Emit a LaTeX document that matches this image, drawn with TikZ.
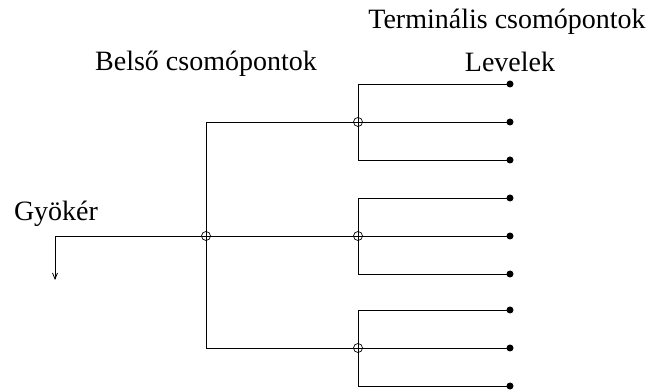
\documentclass[tikz,border=0pt]{standalone}
\usepackage{fontspec}
\setmainfont{Liberation Serif}
\usetikzlibrary{arrows.meta}
\begin{document}
\begin{tikzpicture}[x=1pt,y=-1pt,
  wire/.style={line width=0.8pt},
  inner/.style={circle,minimum size=9pt,inner sep=0pt},
  ring/.style={line width=0.7pt},
  leaf/.style={circle,fill,minimum size=7pt,inner sep=0pt},
  lbl/.style={font=\fontsize{28}{32}\selectfont,anchor=base,inner sep=0pt}]
\useasboundingbox (0,0) rectangle (654,390);
% labels
\node[lbl] (tlab) at (507,29) {Terminális csomópontok};
\node[lbl] (llab) at (510,72) {Levelek};
\node[lbl] (blab) at (206,71) {Belső csomópontok};
\node[lbl] (glab) at (56,221) {Gyökér};
% root and internal nodes
\coordinate (out) at (55,280);
\coordinate (rc) at (55,236);
\node[inner] (r) at (206,236) {};
\foreach \i/\y in {1/122,2/236,3/348} {
  \node[inner] (n\i) at (358,\y) {};
  \coordinate (t\i) at (358,\y-38);
  \coordinate (b\i) at (358,\y+38);
  \node[leaf] (l\i a) at (510,\y-38) {};
  \node[leaf] (l\i b) at (510,\y) {};
  \node[leaf] (l\i c) at (510,\y+38) {};
}
\coordinate (rt) at (206,122);
\coordinate (rb) at (206,348);
% connectors (lines run through the centres of the open circles)
\draw[wire,-{Straight Barb[length=6pt,width=5pt]}] (r.center) -- (rc) -- (out);
\draw[wire] (rt) -- (rb);
\draw[wire] (rt) -- (n1.center);
\draw[wire] (r.center) -- (n2.center);
\draw[wire] (rb) -- (n3.center);
\foreach \i in {1,2,3} {
  \draw[wire] (t\i) -- (b\i);
  \draw[wire] (t\i) -- (l\i a.center);
  \draw[wire] (n\i.center) -- (l\i b.center);
  \draw[wire] (b\i) -- (l\i c.center);
}
% open circles on the inner nodes
\foreach \n in {r,n1,n2,n3}
  \draw[ring] (\n.center) circle[radius=4.5pt];
\end{tikzpicture}
\end{document}
